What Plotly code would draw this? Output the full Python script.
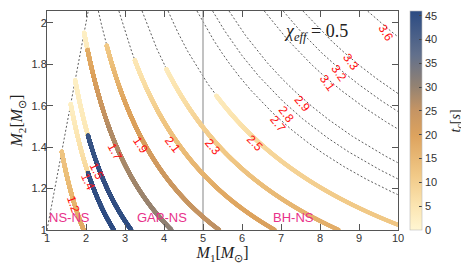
import numpy as np
import plotly.graph_objects as go

# ---------------- data ----------------
X_TICKS = list(range(1, 11))
Y_TICKS = [1.0, 1.2, 1.4, 1.6, 1.8, 2.0]
Y_TICKTEXT = ["1", "1.2", "1.4", "1.6", "1.8", "2"]
X_RANGE = [1, 10]
Y_RANGE = [1, 2.057]

# chirp-mass contours (dotted), labelled in red
MC_ALL = [1.2, 1.4, 1.5, 1.7, 1.9, 2.1, 2.3, 2.5, 2.7, 2.8, 2.9, 3.1, 3.2, 3.3, 3.6]

# thick coloured parts: chirp mass, knots in M1 and t_c [s]
MC_THICK = [1.2, 1.4, 1.5, 1.7, 1.9, 2.1, 2.3, 2.5]
THICK_M1_KNOTS = [
    [1.378, 1.93],
    [1.608, 2.05, 2.051, 2.70],
    [1.723, 2.05, 2.051, 3.15],
    [1.953, 2.04, 2.041, 2.6, 4.2],
    [2.53, 3.0, 4.0, 5.4],
    [3.25, 4.0, 5.5, 6.9],
    [4.06, 5.0, 7.0, 8.7],
    [5.34, 6.5, 8.5, 10.0],
]
THICK_TC_KNOTS = [
    [12, 18],
    [2, 8, 44, 45],
    [2, 4, 43, 45],
    [2, 3, 17, 27, 31],
    [11, 19, 23, 26],
    [4, 12, 18, 21],
    [3, 10, 15, 18],
    [3, 8, 11, 12],
]

LABEL_TEXT = ["1.2", "1.4", "1.5", "1.7", "1.9", "2.1", "2.3", "2.5",
              "2.7", "2.8", "2.9", "3.1", "3.2", "3.3", "3.6"]
LABEL_X = [1.67, 2.06, 2.27, 2.74, 3.40, 4.23, 5.25, 6.32,
           6.92, 7.13, 7.56, 8.19, 8.49, 8.79, 9.69]
LABEL_Y = [1.125, 1.234, 1.284, 1.376, 1.41, 1.41, 1.40, 1.418,
           1.51, 1.56, 1.61, 1.71, 1.76, 1.81, 1.95]
LABEL_ANGLE = [70, 66, 64, 62, 56, 52, 50, 46,
               52, 52, 50, 54, 54, 54, 58]

REGION_TEXT = ["NS-NS", "GAP-NS", "BH-NS"]
REGION_X = [1.58, 3.94, 7.33]
REGION_Y = [1.058, 1.058, 1.058]

CHI_TEXT = "<i>χ<sub>eff</sub></i> = 0.5"
CHI_X, CHI_Y = 7.9, 1.952

GAP_LINE_X = 5

TC_MIN, TC_MAX = 0, 46
TC_TICKS = list(range(0, 50, 5))
TC_TITLE = "<i>t<sub>c</sub></i>[<i>s</i>]"

COLORSCALE = [
    [0.00, "#FFF6D2"],
    [0.12, "#FBE3AE"],
    [0.25, "#F1C987"],
    [0.43, "#DDA35E"],
    [0.55, "#C49464"],
    [0.66, "#928273"],
    [0.80, "#62708C"],
    [1.00, "#2B4B83"],
]


def chirp_curve(mc, n=4000):
    q = np.linspace(1.0, 0.05, n)
    eta = q / (1 + q) ** 2
    mtot = mc / eta ** 0.6
    m1 = mtot / (1 + q)
    m2 = q * mtot / (1 + q)
    mask = (m2 >= Y_RANGE[0]) & (m2 <= Y_RANGE[1]) & (m1 <= X_RANGE[1])
    return m1[mask], m2[mask]


fig = go.Figure()

# equal-mass diagonal
fig.add_trace(go.Scatter(x=[1, Y_RANGE[1]], y=[1, Y_RANGE[1]], mode="lines",
                         line=dict(color="#333333", width=0.8, dash="2px,2px"),
                         hoverinfo="skip", showlegend=False))

# dotted chirp-mass contours
for mc in MC_ALL:
    m1, m2 = chirp_curve(mc)
    fig.add_trace(go.Scatter(x=m1, y=m2, mode="lines",
                             line=dict(color="#333333", width=0.8, dash="2px,2px"),
                             hoverinfo="skip", showlegend=False))

# vertical gap line
fig.add_trace(go.Scatter(x=[GAP_LINE_X, GAP_LINE_X], y=Y_RANGE, mode="lines",
                         line=dict(color="#A8A8A8", width=1.4),
                         hoverinfo="skip", showlegend=False))

# thick coloured parts
for i, mc in enumerate(MC_THICK):
    m1, m2 = chirp_curve(mc)
    k1 = THICK_M1_KNOTS[i]
    sel = m1 >= k1[0] - 1e-9
    m1, m2 = m1[sel], m2[sel]
    tc = np.interp(m1, k1, THICK_TC_KNOTS[i])
    fig.add_trace(go.Scatter(
        x=m1, y=m2, mode="markers",
        marker=dict(size=4.1, color=tc, colorscale=COLORSCALE, cmin=TC_MIN, cmax=TC_MAX,
                    line=dict(width=0),
                    showscale=(i == 0),
                    colorbar=dict(
                        x=1.034, xanchor="left", y=0.5, yanchor="middle",
                        len=1.0, lenmode="fraction", thickness=12,
                        xpad=0, ypad=0,
                        outlinecolor="#BBBBBB", outlinewidth=0.6,
                        tickvals=TC_TICKS, ticks="inside", ticklen=3,
                        tickcolor="#444444",
                        tickfont=dict(family="Liberation Sans", size=11, color="#333333"),
                    )),
        hoverinfo="skip", showlegend=False))

# colour-bar title
fig.add_annotation(x=1.168, y=0.5, xref="paper", yref="paper", text=TC_TITLE,
                   showarrow=False, textangle=-90,
                   font=dict(family="Liberation Serif", size=14, color="#222222"),
                   xanchor="center", yanchor="middle")

# red contour labels
for t, x, y, a in zip(LABEL_TEXT, LABEL_X, LABEL_Y, LABEL_ANGLE):
    fig.add_annotation(x=x, y=y, text=t, showarrow=False, textangle=a,
                       font=dict(family="Liberation Sans", size=12, color="#FF1010"),
                       xanchor="center", yanchor="middle")

# region labels
for t, x, y in zip(REGION_TEXT, REGION_X, REGION_Y):
    fig.add_annotation(x=x, y=y, text=t, showarrow=False,
                       font=dict(family="Liberation Sans", size=13, color="#E8318A"),
                       xanchor="center", yanchor="middle")

fig.add_annotation(x=CHI_X, y=CHI_Y, text=CHI_TEXT, showarrow=False,
                   font=dict(family="Liberation Serif", size=18, color="#222222"),
                   xanchor="center", yanchor="middle")

axis_common = dict(showgrid=False, zeroline=False, showline=True, linecolor="#555555",
                   linewidth=1, mirror="ticks", ticks="inside", ticklen=6,
                   tickcolor="#555555",
                   tickfont=dict(family="Liberation Sans", size=11, color="#333333"))

# the page body adds an 8px offset, so the figure is 8px smaller on each axis
fig.update_layout(
    width=461, height=256,
    margin=dict(l=39, r=71, t=3, b=34),
    paper_bgcolor="white", plot_bgcolor="white",
    xaxis=dict(range=X_RANGE, tickvals=X_TICKS, ticklabelstandoff=-2,
               title=dict(text="<i>M</i><sub>1</sub>[<i>M</i><sub>⊙</sub>]",
                          font=dict(family="Liberation Serif", size=16, color="#222222"),
                          standoff=2),
               **axis_common),
    yaxis=dict(range=Y_RANGE, tickvals=Y_TICKS, ticktext=Y_TICKTEXT, ticklabelstandoff=-3,
               title=dict(text="<i>M</i><sub>2</sub>[<i>M</i><sub>⊙</sub>]",
                          font=dict(family="Liberation Serif", size=16, color="#222222"),
                          standoff=4),
               **axis_common),
)

fig.write_html("out.html")
